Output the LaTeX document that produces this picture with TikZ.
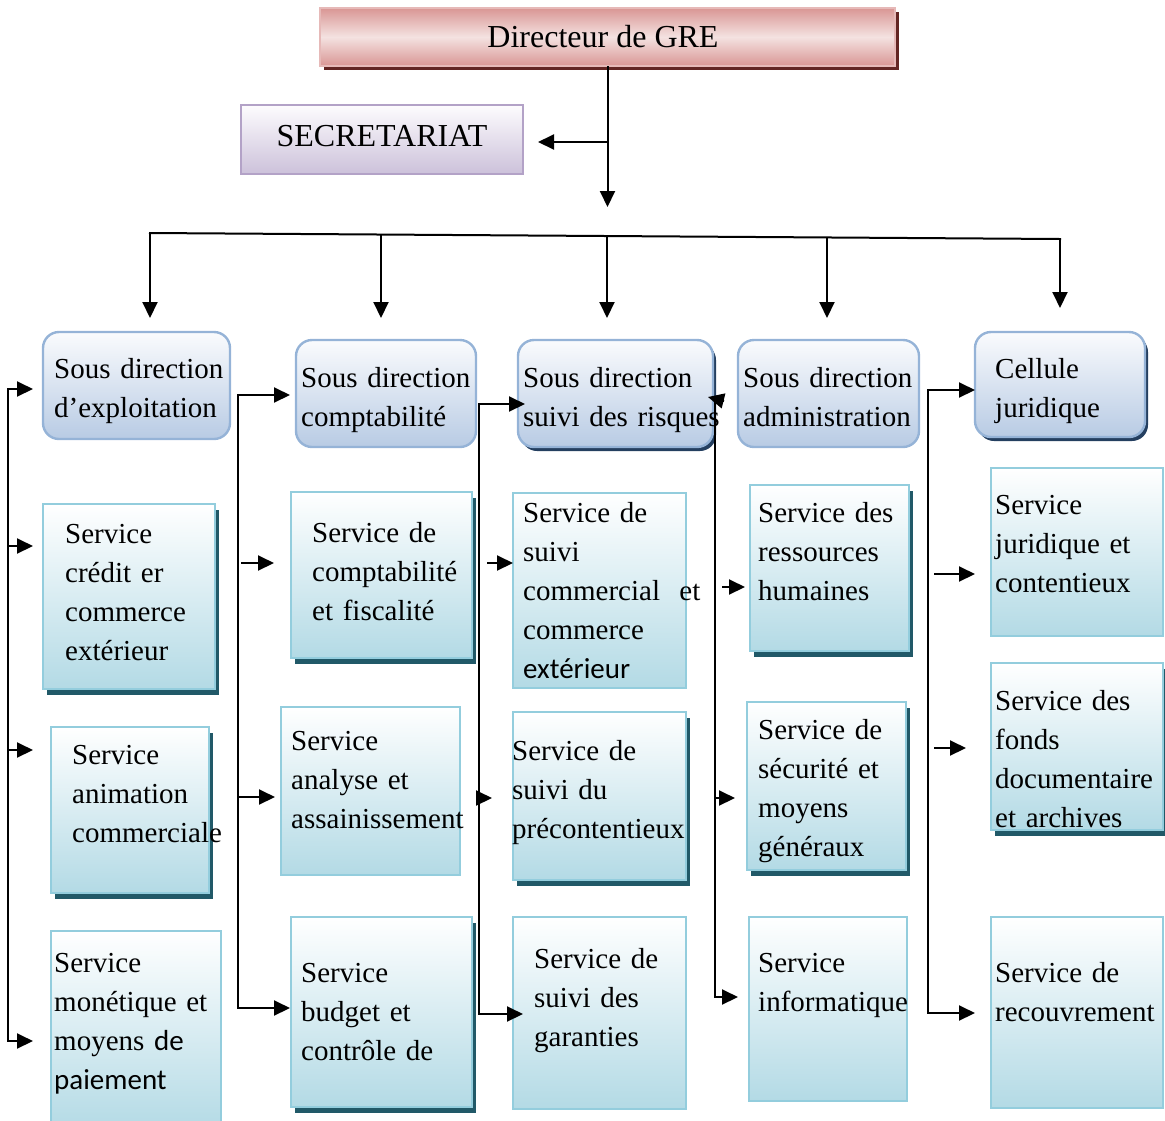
\documentclass[tikz,border=0pt]{standalone}
\usepackage{fontspec}
\setmainfont{Liberation Serif}
\newfontfamily\calfont{Carlito}
\usetikzlibrary{shadows,arrows.meta}

\definecolor{svcedge}{HTML}{93CDDD}
\definecolor{svcbot}{HTML}{B3DAE5}
\definecolor{svcshadow}{HTML}{215968}
\definecolor{sdedge}{HTML}{95B3D7}
\definecolor{sdtop}{HTML}{FAFBFD}
\definecolor{sdbot}{HTML}{B8CBE4}
\definecolor{sdshadow}{HTML}{243F60}
\definecolor{dirdark}{HTML}{D99694}
\definecolor{dirlight}{HTML}{F4E2E1}
\definecolor{diredge}{HTML}{E6B9B8}
\definecolor{dirshadow}{HTML}{632523}
\definecolor{secedge}{HTML}{B3A2C7}
\definecolor{sectop}{HTML}{FDFCFE}
\definecolor{secbot}{HTML}{CCC1DA}

\begin{document}
\begin{tikzpicture}[x=1pt,y=-1pt,
  wire/.style={line width=2pt, line cap=rect},
  arr/.style={line width=2pt, -{Triangle[length=16pt,width=15pt]}},
  box/.style={anchor=north west, inner sep=0pt, outer sep=0pt},
  svc/.style={box, draw=svcedge, line width=2.6pt, top color=white, bottom color=svcbot},
  svcsh/.style={svc, drop shadow={shadow xshift=4pt, shadow yshift=-6pt, fill=svcshadow, opacity=1}},
  sdir/.style={box, draw=sdedge, line width=2.4pt, rounded corners=16pt, top color=sdtop, bottom color=sdbot},
  sdirsh/.style={sdir, drop shadow={shadow xshift=3pt, shadow yshift=-4pt, fill=sdshadow, opacity=1}},
  dirbox/.style={box, draw=diredge, line width=2pt, top color=dirdark, bottom color=dirdark, middle color=dirlight,
    drop shadow={shadow xshift=4pt, shadow yshift=-4pt, fill=dirshadow, opacity=1}},
  secbox/.style={box, draw=secedge, line width=2.2pt, top color=sectop, bottom color=secbot},
  lbl/.style={anchor=base west, inner sep=0pt, align=left, text width=240pt, font=\fontsize{29}{39}\selectfont},
  ttl/.style={anchor=base, inner sep=0pt, font=\fontsize{32}{38}\selectfont},
]
\useasboundingbox (0,0) rectangle (1165,1120);

% ---- top of the chart
\node[dirbox, minimum width=575pt, minimum height=58pt] (dir) at (320,8) {};
\node[ttl] (dir-t) at (603,47) {Directeur de GRE};
\node[secbox, minimum width=282pt, minimum height=69pt] (sec) at (241,105) {};
\node[ttl] (sec-t) at (382,146) {SECRETARIAT};

% ---- sub-directions
\node[sdir,   minimum width=187pt, minimum height=107pt] (D1) at (43,332) {};
\node[sdir,   minimum width=180pt, minimum height=107pt] (D2) at (296,340) {};
\node[sdirsh, minimum width=195pt, minimum height=107pt] (D3) at (518,340) {};
\node[sdir,   minimum width=181pt, minimum height=107pt] (D4) at (738,340) {};
\node[sdirsh, minimum width=170pt, minimum height=105pt] (D5) at (975,332) {};

\node[lbl] (D1-t) at (54,378)  {Sous direction\\d’exploitation};
\node[lbl] (D2-t) at (301,387) {Sous direction\\comptabilité};
\node[lbl] (D3-t) at (523,387) {Sous direction\\suivi des risques};
\node[lbl] (D4-t) at (743,387) {Sous direction\\administration};
\node[lbl] (D5-t) at (995,378) {Cellule\\juridique};

% ---- services
\node[svcsh, minimum width=172pt, minimum height=185pt] (S1a) at (43,504) {};
\node[svcsh, minimum width=158pt, minimum height=166pt] (S1b) at (51,727) {};
\node[svc,   minimum width=170pt, minimum height=200pt] (S1c) at (51,931) {};

\node[svcsh, minimum width=181pt, minimum height=166pt] (S2a) at (291,492) {};
\node[svc,   minimum width=179pt, minimum height=168pt] (S2b) at (281,707) {};
\node[svcsh, minimum width=181pt, minimum height=190pt] (S2c) at (291,917) {};

\node[svc,   minimum width=173pt, minimum height=195pt] (S3a) at (513,493) {};
\node[svcsh, minimum width=173pt, minimum height=168pt] (S3b) at (513,712) {};
\node[svc,   minimum width=173pt, minimum height=192pt] (S3c) at (513,917) {};

\node[svcsh, minimum width=159pt, minimum height=166pt] (S4a) at (750,485) {};
\node[svcsh, minimum width=159pt, minimum height=168pt] (S4b) at (747,702) {};
\node[svc,   minimum width=158pt, minimum height=184pt] (S4c) at (749,917) {};

\node[svc,   minimum width=172pt, minimum height=168pt] (S5a) at (991,468) {};
\node[svcsh, minimum width=172pt, minimum height=167pt] (S5b) at (991,663) {};
\node[svc,   minimum width=172pt, minimum height=191pt] (S5c) at (991,917) {};

\node[lbl] (S1a-t) at (65,543)  {Service\\crédit er\\commerce\\extérieur};
\node[lbl] (S1b-t) at (72,764)  {Service\\animation\\commerciale};
\node[lbl] (S1c-t) at (54,972)  {Service\\monétique et\\moyens{\calfont\ de}\\{\calfont paiement}};

\node[lbl] (S2a-t) at (312,542) {Service de\\comptabilité\\et fiscalité};
\node[lbl] (S2b-t) at (291,750) {Service\\analyse et\\assainissement};
\node[lbl] (S2c-t) at (301,982) {Service\\budget et\\contrôle de};

\node[lbl] (S3a-t) at (523,522) {Service de\\suivi\\commercial\ \ et\\commerce\\{\calfont extérieur}};
\node[lbl] (S3b-t) at (512,760) {Service de\\suivi du\\précontentieux};
\node[lbl] (S3c-t) at (534,968) {Service de\\suivi des\\garanties};

\node[lbl] (S4a-t) at (758,522) {Service des\\ressources\\humaines};
\node[lbl] (S4b-t) at (758,739) {Service de\\sécurité et\\moyens\\généraux};
\node[lbl] (S4c-t) at (758,972) {Service\\informatique};

\node[lbl] (S5a-t) at (995,514) {Service\\juridique et\\contentieux};
\node[lbl] (S5b-t) at (995,710) {Service des\\fonds\\documentaire\\et archives};
\node[lbl] (S5c-t) at (995,982) {Service de\\recouvrement};

% ---- director to secretariat and to the sub-directions
\coordinate (dsplit) at (607.5,142);
\coordinate (ddrop) at (607.5,207);
\draw[arr] (dir.south) -- (ddrop);
\draw[arr, shorten >=15pt] (dsplit) -- (dsplit -| sec.east);

\coordinate (t1) at (150,233);
\coordinate (t2) at (381,234.5);
\coordinate (t3) at (607,236);
\coordinate (t4) at (827,237.5);
\coordinate (t5) at (1060,239);
\draw[wire] (t1) -- (t5);
\draw[arr, shorten >=14pt] (t1) -- (t1 |- D1.north);
\draw[arr, shorten >=22pt] (t2) -- (t2 |- D2.north);
\draw[arr, shorten >=22pt] (t3) -- (t3 |- D3.north);
\draw[arr, shorten >=22pt] (t4) -- (t4 |- D4.north);
\draw[arr, shorten >=24pt] (t5) -- (t5 |- D5.north);

% ---- column 1
\coordinate (a1) at (8,389);
\coordinate (a2) at (8,546);
\coordinate (a3) at (8,750);
\coordinate (a4) at (8,1041);
\draw[arr, shorten >=10pt] (a2) -- (a1) -- (a1 -| D1.west);
\draw[arr, shorten >=18pt] (a1) -- (a4) -- (a4 -| S1c.west);
\draw[arr, shorten >=10pt] (a2) -- (a2 -| S1a.west);
\draw[arr, shorten >=18pt] (a3) -- (a3 -| S1b.west);

% ---- column 2
\coordinate (b1) at (238,395);
\coordinate (b2) at (241,563);
\coordinate (b3) at (238,797);
\coordinate (b4) at (238,1008);
\draw[arr, shorten >=6pt] (b3) -- (b1) -- (b1 -| D2.west);
\draw[arr, shorten >=1pt] (b1) -- (b4) -- (b4 -| S2c.west);
\draw[arr, shorten >=17pt] (b2) -- (b2 -| S2a.west);
\draw[arr, shorten >=6pt] (b3) -- (b3 -| S2b.west);

% ---- column 3
\coordinate (c1) at (479,404);
\coordinate (c2) at (487,563);
\coordinate (c3) at (479,798);
\coordinate (c4) at (479,1014);
\draw[arr, shorten >=-7pt] (c3) -- (c1) -- (c1 -| D3.west);
\draw[arr, shorten >=-10pt] (c1) -- (c4) -- (c4 -| S3c.west);
\draw[arr] (c2) -- (c2 -| S3a.west);
\draw[arr, shorten >=21pt] (c3) -- (c3 -| S3b.west);

% ---- column 4
\coordinate (e0) at (715,401);
\coordinate (eback) at (724,401);
\coordinate (etip) at (708,397);
\coordinate (e1) at (722,587);
\coordinate (e2) at (715,798);
\coordinate (e3) at (715,997);
\draw[arr, shorten >=11pt] (e0) -- (e3) -- (e3 -| S4c.west);
\draw[arr] (eback) -- (etip);
\draw[arr, shorten >=5pt] (e1) -- (e1 -| S4a.west);
\draw[arr, shorten >=12pt] (e2) -- (e2 -| S4b.west);

% ---- column 5
\coordinate (f1) at (928,390);
\coordinate (f2) at (934,574);
\coordinate (f3) at (934,748);
\coordinate (f4) at (928,1013);
\draw[arr] (f4) -- (f1) -- (f1 -| D5.west);
\draw[arr, shorten >=16pt] (f1) -- (f4) -- (f4 -| S5c.west);
\draw[arr, shorten >=16pt] (f2) -- (f2 -| S5a.west);
\draw[arr, shorten >=25pt] (f3) -- (f3 -| S5b.west);

\end{tikzpicture}
\end{document}
